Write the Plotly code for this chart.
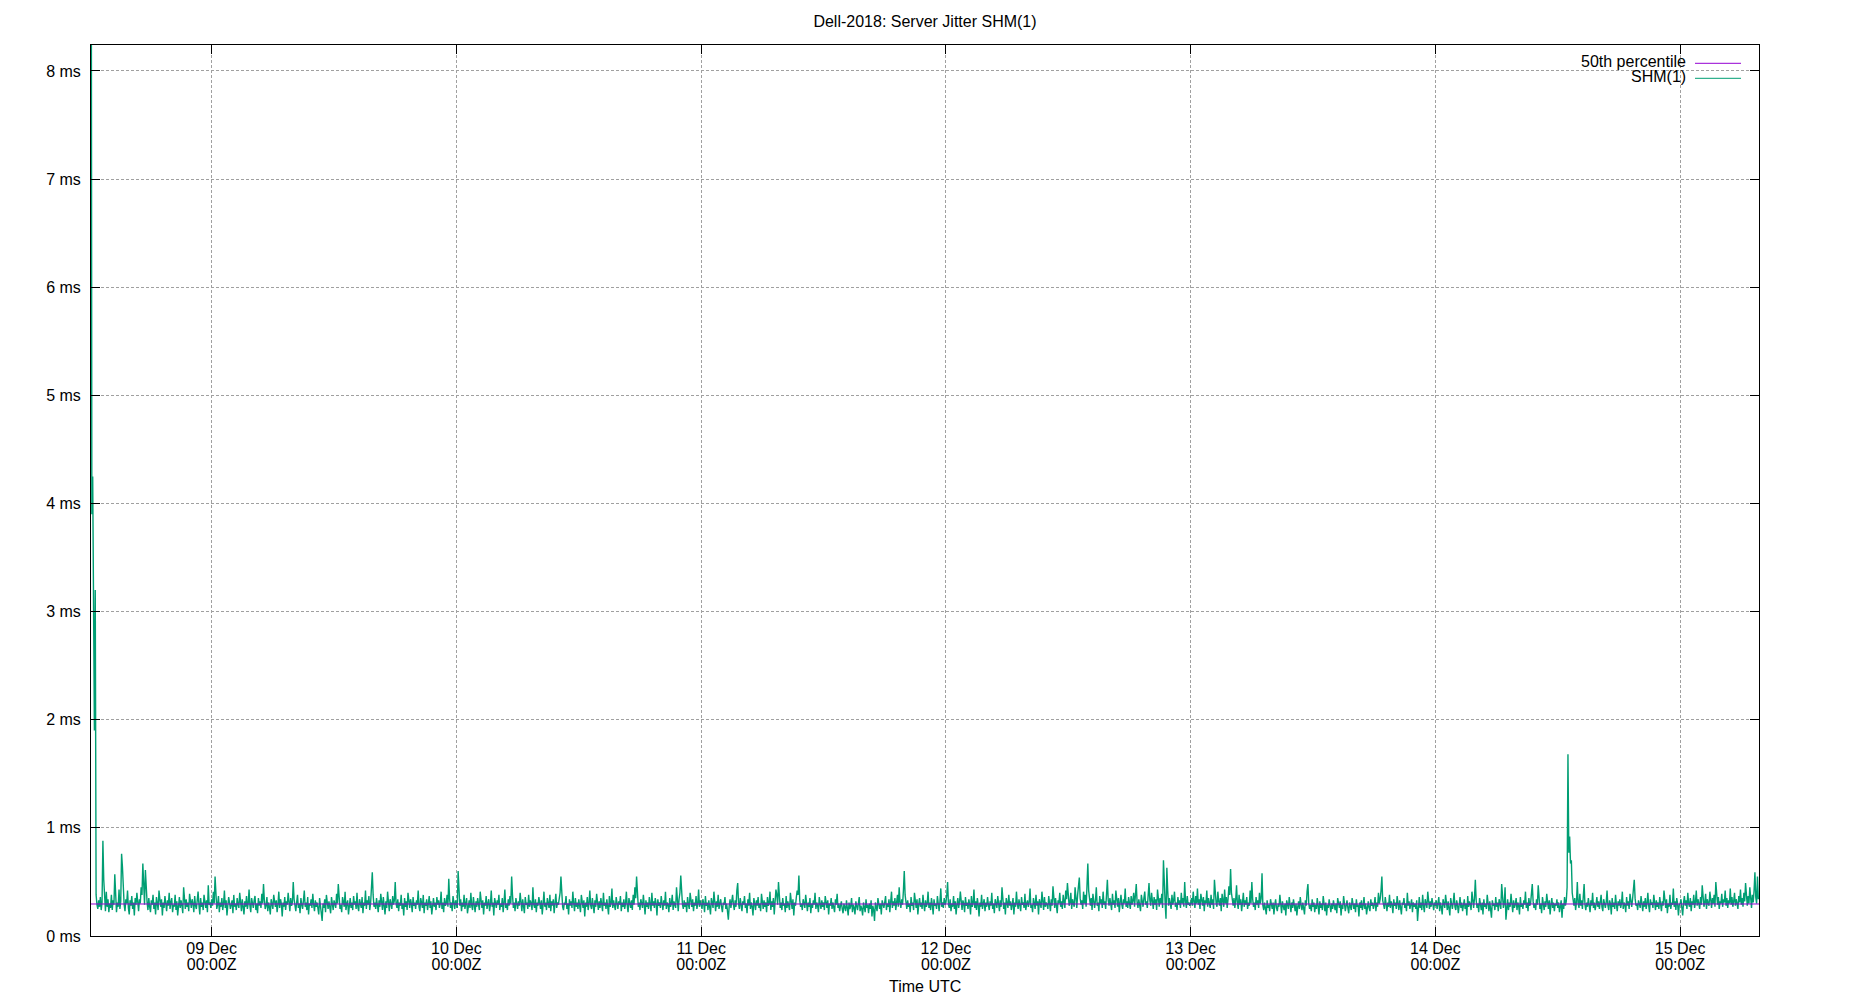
import pandas as pd
import plotly.graph_objects as go

# ---- data: server jitter of SHM(1), microseconds, one sample every 5 minutes ----
shm1_dec08_us = [
    12000, 3900, 4250, 3200, 1900, 3200, 380, 290, 250, 330, 270, 360, 240, 310, 880, 520, 300, 230, 410, 270, 340, 220,
    300, 260, 380, 240, 330, 290, 570, 350, 220, 310, 270, 430, 250, 320, 760, 640, 380, 290, 230, 340, 300, 420, 260, 200,
    330, 280, 370, 250, 310, 190, 350, 290, 400, 260, 230, 340, 300, 450, 380, 670, 520, 290, 610, 430, 310, 240, 350, 270,
    220, 330, 290, 380, 250, 310, 200, 360, 280, 240, 420, 300, 270, 340, 190, 310, 260, 370, 290, 230, 330, 280, 400, 250,
    310, 350, 220, 290, 270, 380, 240, 320, 190, 300, 360, 260, 330, 280, 210, 450, 300, 250, 340, 270, 310, 230, 390, 280,
    260, 340, 300, 220, 370, 280, 250, 330, 410, 290, 200, 350, 270, 310, 240, 380, 300, 260, 330, 220, 470, 290, 310, 260,
]
shm1_dec09_us = [
    340, 280, 410, 300, 550, 330, 250, 290, 370, 220, 310, 270, 350, 240, 300, 420, 260, 330, 190, 280, 360, 310, 250, 290,
    330, 210, 380, 270, 300, 240, 350, 290, 260, 400, 310, 230, 340, 280, 200, 320, 270, 370, 250, 300, 430, 280, 220, 350,
    290, 260, 330, 370, 240, 300, 210, 350, 280, 320, 260, 390, 300, 480, 330, 250, 280, 360, 230, 310, 270, 200, 340, 290,
    250, 380, 300, 270, 330, 220, 290, 410, 260, 340, 300, 180, 310, 270, 360, 240, 320, 290, 400, 260, 230, 350, 280, 310,
    500, 340, 270, 230, 310, 380, 260, 300, 210, 350, 290, 250, 330, 420, 270, 310, 240, 360, 200, 300, 280, 340, 260, 390,
    290, 230, 330, 270, 310, 250, 200, 350, 280, 240, 140, 300, 260, 340, 220, 380, 290, 250, 320, 270, 210, 360, 300, 240,
    330, 280, 260, 390, 300, 480, 340, 250, 290, 220, 360, 310, 270, 410, 240, 300, 330, 200, 280, 350, 260, 310, 240, 370,
    290, 320, 250, 400, 270, 230, 340, 300, 260, 360, 210, 310, 280, 420, 250, 330, 290, 370, 240, 300, 450, 590, 380, 270,
    310, 250, 350, 290, 220, 330, 270, 390, 300, 240, 360, 280, 200, 320, 260, 410, 300, 230, 340, 280, 250, 370, 290, 330,
    500, 300, 260, 340, 230, 310, 280, 380, 250, 300, 190, 350, 270, 320, 240, 400, 290, 260, 340, 300, 220, 360, 280, 310,
    250, 330, 290, 420, 270, 230, 350, 300, 260, 380, 210, 310, 280, 340, 240, 300, 370, 260, 320, 200, 290, 350, 270, 310,
    240, 360, 290, 330, 260, 300, 410, 250, 310, 220, 350, 280, 300, 380, 270, 530, 340, 260, 310, 230, 370, 290, 250, 330,
]
shm1_dec10_us = [
    300, 260, 600, 420, 280, 340, 230, 310, 270, 380, 250, 300, 350, 210, 290, 330, 260, 400, 280, 240, 360, 300, 220, 320,
    270, 350, 290, 240, 410, 300, 260, 330, 200, 310, 280, 370, 250, 300, 340, 230, 290, 420, 270, 310, 190, 350, 280, 260,
    330, 290, 380, 240, 300, 270, 350, 220, 310, 430, 260, 300, 240, 340, 280, 370, 300, 550, 380, 260, 310, 230, 350, 290,
    250, 320, 280, 400, 300, 230, 340, 270, 210, 360, 290, 310, 250, 380, 270, 330, 300, 240, 450, 290, 260, 340, 220, 310,
    280, 360, 300, 250, 330, 200, 290, 410, 270, 310, 240, 350, 300, 260, 380, 230, 320, 280, 340, 210, 300, 390, 260, 310,
    290, 350, 400, 550, 330, 270, 240, 310, 290, 370, 250, 300, 200, 340, 280, 320, 260, 410, 300, 230, 350, 270, 310, 250,
    340, 290, 220, 380, 300, 260, 330, 180, 310, 270, 360, 240, 300, 420, 280, 250, 350, 300, 210, 330, 270, 390, 290, 240,
    320, 260, 350, 300, 230, 400, 280, 310, 250, 340, 290, 200, 370, 270, 300, 440, 260, 330, 280, 240, 360, 300, 250, 320,
    290, 370, 230, 310, 270, 340, 250, 300, 410, 280, 220, 350, 300, 260, 330, 240, 380, 290, 450, 350, 550, 400, 270, 310,
    240, 340, 290, 260, 380, 300, 200, 330, 270, 310, 250, 360, 290, 230, 400, 280, 320, 260, 350, 300, 190, 340, 280, 310,
    260, 370, 300, 240, 330, 280, 410, 250, 310, 290, 220, 350, 270, 300, 380, 240, 320, 290, 260, 450, 300, 230, 340, 400,
    560, 380, 290, 250, 330, 270, 310, 220, 360, 290, 250, 400, 300, 270, 340, 230, 310, 280, 370, 250, 300, 430, 270, 330,
]
shm1_dec11_us = [
    290, 250, 340, 300, 220, 370, 280, 310, 240, 330, 270, 200, 350, 290, 260, 410, 300, 230, 320, 270, 380, 250, 300, 340,
    270, 220, 310, 290, 360, 250, 300, 200, 150, 280, 340, 260, 310, 380, 290, 240, 330, 270, 420, 490, 300, 250, 350, 280,
    230, 320, 290, 370, 260, 300, 210, 340, 280, 400, 250, 310, 270, 190, 350, 300, 240, 330, 280, 360, 260, 300, 230, 390,
    290, 250, 330, 270, 310, 220, 360, 280, 300, 410, 240, 320, 270, 350, 200, 300, 430, 380, 290, 500, 330, 260, 310, 240,
    350, 280, 300, 220, 370, 260, 320, 290, 240, 400, 300, 250, 340, 190, 310, 280, 360, 420, 380, 560, 330, 270, 300, 240,
    340, 290, 260, 380, 300, 230, 310, 270, 350, 210, 300, 260, 330, 290, 400, 250, 310, 280, 220, 360, 300, 250, 330, 270,
    310, 240, 370, 290, 260, 330, 200, 300, 280, 350, 250, 310, 270, 220, 340, 290, 390, 260, 300, 230, 280, 320, 250, 210,
    300, 260, 230, 330, 270, 190, 310, 250, 280, 350, 220, 290, 260, 200, 320, 270, 240, 300, 360, 230, 280, 250, 190, 310,
    270, 220, 340, 260, 290, 210, 300, 250, 330, 180, 280, 240, 140, 310, 270, 230, 350, 290, 250, 300, 200, 330, 280, 260,
    310, 370, 240, 300, 270, 340, 220, 290, 410, 260, 320, 280, 350, 240, 300, 380, 270, 450, 310, 260, 340, 290, 420, 600,
    380, 290, 250, 330, 270, 300, 220, 360, 280, 310, 240, 400, 300, 260, 340, 200, 290, 350, 270, 310, 250, 380, 290, 230,
    330, 270, 300, 410, 260, 310, 240, 350, 290, 200, 340, 280, 300, 250, 370, 290, 230, 320, 440, 270, 310, 260, 350, 290,
]
shm1_dec12_us = [
    310, 380, 500, 290, 260, 340, 230, 300, 270, 370, 250, 320, 200, 290, 350, 260, 310, 410, 280, 240, 330, 300, 220, 360,
    280, 310, 250, 340, 290, 200, 370, 270, 300, 430, 260, 320, 240, 350, 290, 180, 310, 270, 380, 250, 300, 340, 230, 310,
    270, 360, 290, 240, 320, 280, 400, 250, 300, 210, 340, 290, 260, 370, 300, 230, 330, 270, 450, 290, 250, 310, 200, 350,
    300, 260, 380, 280, 320, 240, 290, 350, 200, 310, 270, 410, 300, 250, 340, 280, 230, 360, 290, 310, 260, 390, 240, 300,
    330, 270, 310, 440, 260, 290, 220, 350, 300, 250, 380, 280, 320, 200, 340, 290, 260, 410, 300, 240, 360, 270, 310, 290,
    250, 370, 300, 230, 340, 280, 460, 310, 260, 350, 290, 210, 330, 300, 400, 270, 320, 250, 380, 300, 260, 420, 340, 490,
    360, 280, 310, 400, 250, 340, 300, 270, 450, 320, 260, 380, 440, 540, 350, 290, 330, 250, 410, 300, 380, 270, 460, 670,
    420, 310, 280, 350, 240, 390, 300, 260, 330, 450, 280, 310, 230, 370, 300, 340, 260, 410, 290, 320, 250, 380, 520, 330,
    280, 350, 300, 240, 390, 290, 330, 260, 420, 300, 270, 350, 220, 310, 380, 290, 250, 340, 300, 440, 270, 320, 260, 360,
    300, 250, 370, 290, 330, 400, 270, 360, 480, 310, 260, 340, 290, 230, 380, 300, 270, 350, 410, 290, 320, 260, 370, 490,
    330, 280, 400, 300, 250, 360, 290, 340, 240, 430, 310, 270, 350, 300, 390, 260, 700, 380, 300, 160, 630, 420, 280, 350,
    300, 250, 380, 290, 330, 410, 270, 310, 240, 360, 290, 330, 260, 400, 300, 350, 270, 500, 320, 260, 370, 290, 310, 280,
]
shm1_dec13_us = [
    300, 350, 280, 410, 320, 260, 370, 300, 440, 290, 340, 250, 390, 310, 280, 360, 230, 330, 300, 420, 270, 350, 310, 260,
    380, 290, 340, 250, 520, 360, 300, 270, 410, 320, 280, 350, 230, 390, 310, 270, 430, 300, 360, 260, 340, 460, 380, 620,
    400, 310, 280, 350, 260, 330, 470, 300, 250, 380, 290, 340, 230, 310, 400, 270, 330, 290, 360, 250, 310, 280, 420, 300,
    500, 340, 270, 310, 240, 360, 290, 330, 260, 400, 300, 350, 580, 280, 240, 310, 270, 200, 330, 260, 290, 230, 340, 270,
    250, 310, 200, 290, 340, 260, 230, 300, 270, 380, 250, 210, 320, 280, 240, 300, 190, 330, 270, 250, 360, 290, 220, 310,
    260, 340, 280, 230, 300, 190, 270, 320, 250, 360, 290, 240, 310, 270, 200, 330, 280, 410, 480, 300, 250, 290, 230, 340,
    270, 310, 220, 290, 250, 350, 280, 200, 320, 260, 300, 240, 370, 270, 230, 310, 190, 290, 260, 340, 280, 220, 300, 250,
    330, 270, 240, 300, 210, 350, 280, 260, 320, 190, 290, 250, 370, 300, 230, 280, 330, 260, 210, 310, 270, 240, 350, 290,
    250, 300, 220, 340, 270, 290, 180, 310, 260, 330, 240, 280, 360, 250, 300, 200, 290, 320, 260, 230, 340, 280, 310, 250,
    290, 360, 230, 310, 270, 400, 300, 340, 420, 550, 330, 280, 250, 360, 300, 230, 310, 270, 380, 260, 320, 290, 210, 340,
    280, 310, 250, 370, 300, 240, 330, 270, 200, 310, 290, 350, 260, 300, 230, 400, 280, 320, 250, 290, 340, 220, 310, 270,
    300, 250, 330, 140, 290, 360, 260, 310, 240, 380, 280, 220, 340, 300, 260, 410, 290, 250, 320, 270, 350, 300, 240, 310,
]
shm1_dec14_us = [
    280, 330, 250, 300, 360, 230, 310, 270, 200, 340, 290, 260, 380, 300, 240, 320, 270, 190, 350, 290, 250, 310, 400, 270,
    240, 330, 290, 210, 300, 360, 260, 310, 230, 280, 340, 250, 300, 190, 370, 270, 320, 290, 240, 410, 300, 260, 350, 520,
    330, 260, 300, 220, 350, 280, 240, 310, 200, 340, 270, 300, 250, 380, 290, 230, 320, 260, 170, 330, 280, 300, 240, 360,
    270, 310, 230, 340, 290, 250, 480, 320, 260, 300, 450, 150, 280, 340, 240, 310, 270, 390, 300, 220, 330, 260, 290, 350,
    240, 310, 280, 200, 360, 270, 300, 250, 330, 290, 410, 260, 310, 230, 350, 280, 300, 380, 480, 320, 260, 300, 240, 340,
    290, 470, 330, 250, 300, 210, 360, 280, 240, 320, 270, 390, 300, 250, 330, 200, 290, 350, 260, 310, 230, 300, 280, 340,
    260, 310, 220, 290, 330, 170, 300, 250, 360, 280, 320, 450, 1680, 770, 920, 670, 700, 400, 330, 280, 350, 240, 310, 500,
    300, 260, 390, 280, 330, 250, 360, 480, 290, 240, 310, 270, 350, 300, 220, 330, 280, 400, 260, 310, 240, 290, 360, 270,
    320, 250, 300, 380, 270, 230, 340, 290, 260, 310, 420, 280, 240, 330, 300, 200, 350, 270, 310, 250, 380, 290, 230, 320,
    280, 340, 260, 300, 410, 250, 310, 290, 220, 360, 280, 320, 250, 390, 300, 270, 340, 410, 520, 350, 280, 300, 240, 330,
    290, 260, 370, 300, 230, 320, 270, 350, 250, 300, 400, 280, 220, 340, 290, 310, 260, 380, 300, 240, 330, 270, 310, 250,
    360, 290, 230, 320, 280, 420, 300, 260, 340, 210, 300, 270, 380, 250, 310, 290, 440, 270, 320, 240, 350, 300, 190, 290,
]
shm1_dec15_us = [
    300, 340, 260, 190, 310, 370, 280, 330, 250, 400, 300, 270, 350, 230, 320, 290, 380, 260, 310, 420, 280, 340, 300, 250,
    360, 290, 470, 330, 270, 310, 390, 250, 340, 300, 280, 410, 320, 260, 350, 300, 380, 270, 500, 340, 290, 360, 250, 320,
    300, 390, 270, 340, 310, 420, 280, 350, 260, 330, 300, 440, 290, 360, 270, 320, 400, 280, 340, 300, 250, 370, 310, 430,
    290, 350, 270, 400, 320, 490, 340, 280, 370, 300, 450, 330, 260, 380, 310, 420, 590, 360, 300, 550, 340,
]
day_starts = ["2019-12-08 12:10", "2019-12-09", "2019-12-10", "2019-12-11",
              "2019-12-12", "2019-12-13", "2019-12-14", "2019-12-15"]
p50_ms = 0.296  # 50th percentile

x_range = ["2019-12-08 12:10", "2019-12-15 07:44"]
tick_days = ["2019-12-09", "2019-12-10", "2019-12-11", "2019-12-12",
             "2019-12-13", "2019-12-14", "2019-12-15"]
tick_day_labels = ["09 Dec", "10 Dec", "11 Dec", "12 Dec", "13 Dec", "14 Dec", "15 Dec"]
tick_time_labels = ["00:00Z"] * 7
y_ticks = [0, 1, 2, 3, 4, 5, 6, 7, 8]
y_tick_labels = ["0 ms", "1 ms", "2 ms", "3 ms", "4 ms", "5 ms", "6 ms", "7 ms", "8 ms"]

# ---- assemble ----
day_lists = [shm1_dec08_us, shm1_dec09_us, shm1_dec10_us, shm1_dec11_us,
             shm1_dec12_us, shm1_dec13_us, shm1_dec14_us, shm1_dec15_us]
times, vals = [], []
for start, lst in zip(day_starts, day_lists):
    times.extend(pd.date_range(start, periods=len(lst), freq="5min"))
    vals.extend(v / 1000.0 for v in lst)

FONT = "Liberation Sans, Arial, sans-serif"
GREEN = "#009e73"
PURPLE = "#9400d3"

# page pixel geometry (the page body margin is removed, so figure == page)
L, R, T, B = 91, 1759, 45, 936
FIG_W, FIG_H = 1850, 1000
W, H = R - L, B - T
px = lambda x: (x - L) / W
py = lambda y: (B - y) / H

fig = go.Figure()
fig.add_trace(go.Scatter(x=[pd.Timestamp(x_range[0]), pd.Timestamp(x_range[1])], y=[p50_ms, p50_ms],
                         mode="lines", line=dict(color=PURPLE, width=1), name="50th percentile",
                         showlegend=False, xaxis="x2"))
fig.add_trace(go.Scatter(x=times, y=vals, mode="lines", line=dict(color=GREEN, width=1.4),
                         name="SHM(1)", showlegend=False))

# legend (gnuplot style: right-aligned text, sample line to its right)
fig.add_shape(type="rect", xref="paper", yref="paper", x0=px(1553), x1=1, y0=py(88), y1=1,
              fillcolor="white", line=dict(width=0), layer="between")
for label, color, ty, ly in [("50th percentile", PURPLE, 61.5, 63.3), ("SHM(1)", GREEN, 76.5, 78.3)]:
    fig.add_annotation(xref="paper", yref="paper", x=px(1687), y=py(ty), text=label, showarrow=False,
                       xanchor="right", yanchor="middle", font=dict(family=FONT, size=16, color="black"),
                       borderpad=0)
    fig.add_shape(type="line", xref="paper", yref="paper", x0=px(1695), x1=px(1741), y0=py(ly), y1=py(ly),
                  line=dict(color=color, width=1))

# x-axis title
fig.add_annotation(xref="paper", yref="paper", x=0.5, y=py(986), text="Time UTC", showarrow=False,
                   xanchor="center", yanchor="middle", font=dict(family=FONT, size=16, color="black"),
                   borderpad=0)

axis_font = dict(family=FONT, size=16, color="black")
fig.update_layout(
    width=FIG_W, height=FIG_H,
    margin=dict(l=L, r=FIG_W - R, t=T, b=FIG_H - B, pad=0, autoexpand=False),
    paper_bgcolor="white", plot_bgcolor="white",
    font=axis_font,
    title=dict(text="Dell-2018: Server Jitter SHM(1)", x=0.5, xref="paper", y=1 - 21 / FIG_H,
               yanchor="middle", font=axis_font, automargin=False),
    showlegend=False,
    xaxis=dict(type="date", range=x_range, tickvals=tick_days, ticktext=tick_day_labels,
               showline=True, linecolor="black", linewidth=1, mirror="ticks",
               ticks="inside", ticklen=9, tickcolor="black", tickwidth=1,
               showgrid=True, gridcolor="#a0a0a0", gridwidth=1, griddash="3px,2px",
               zeroline=False, tickfont=axis_font, ticklabelstandoff=-2, automargin=False),
    xaxis2=dict(type="date", range=x_range, overlaying="x", side="bottom", anchor="y",
                tickvals=tick_days, ticktext=tick_time_labels,
                showline=False, showgrid=False, zeroline=False, ticks="",
                tickfont=axis_font, ticklabelstandoff=17, automargin=False),
    yaxis=dict(range=[0, 8.24], tickvals=y_ticks, ticktext=y_tick_labels,
               showline=True, linecolor="black", linewidth=1, mirror="ticks",
               ticks="inside", ticklen=9, tickcolor="black", tickwidth=1,
               showgrid=True, gridcolor="#a0a0a0", gridwidth=1, griddash="3px,2px",
               zeroline=False, ticklabelstandoff=6, tickfont=axis_font, automargin=False),
)

fig.write_html("out.html", config={"displayModeBar": False},
               post_script="document.body.style.margin='0px';")
